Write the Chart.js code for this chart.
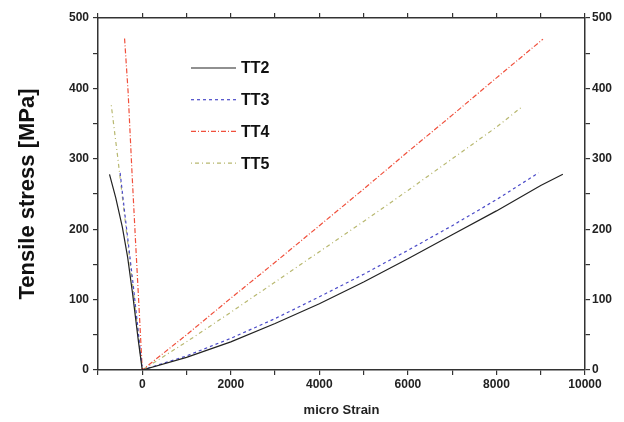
<!DOCTYPE html>
<html>
<head>
<meta charset="utf-8">
<script src="https://cdn.jsdelivr.net/npm/chart.js@4/dist/chart.umd.min.js"></script>
<style>
  html, body { margin: 0; padding: 0; background: #fff; }
  canvas { display: block; }
</style>
</head>
<body>
<canvas id="strainChart" width="624" height="422"></canvas>
<script>
// Curvas tensión - micro deformación (rama transversal negativa, longitudinal positiva)
const seriesNames = ['TT2', 'TT3', 'TT4', 'TT5'];

const tt2Strain = [-740, -600, -450, -330, -220, -90, 0, 1000, 2000, 3000, 4000, 5000, 6000, 7000, 8000, 9000, 9500];
const tt2Stress = [278, 245, 203, 160, 109, 42, 0, 18, 40, 66, 94, 125, 158, 192, 226, 262, 278];

const tt3Strain = [-500, -400, -300, -200, -100, 0, 1000, 2000, 3000, 4000, 5000, 6000, 7000, 8000, 8950];
const tt3Stress = [280, 225, 172, 118, 60, 0, 20, 45, 73, 104, 136, 170, 205, 242, 280];

const tt4Strain = [-400, -320, -230, -150, -70, 0, 1000, 2000, 3000, 4000, 5000, 6000, 7000, 8000, 9050];
const tt4Stress = [471, 395, 278, 180, 85, 0, 50, 102, 153, 205, 257, 310, 362, 415, 470];

const tt5Strain = [-700, -560, -420, -280, -140, 0, 1000, 2000, 3000, 4000, 5000, 6000, 7000, 8000, 8600];
const tt5Stress = [376, 305, 230, 155, 78, 0, 40, 82, 125, 168, 211, 255, 300, 345, 375];

const xTicks = [0, 2000, 4000, 6000, 8000, 10000];
const yTicks = [0, 100, 200, 300, 400, 500];

function pares(xs, ys) {
  return xs.map((x, i) => ({ x: x, y: ys[i] }));
}

const estilos = [
  { color: '#222222', dash: [] },
  { color: '#4a4ac8', dash: [3, 3] },
  { color: '#f0503c', dash: [5, 2, 1, 2] },
  { color: '#b8b870', dash: [1, 3, 4, 3] }
];

const datos = [
  pares(tt2Strain, tt2Stress),
  pares(tt3Strain, tt3Stress),
  pares(tt4Strain, tt4Stress),
  pares(tt5Strain, tt5Stress)
];

// Leyenda dentro del área del gráfico
const leyendaInterna = {
  id: 'leyendaInterna',
  afterDatasetsDraw(chart) {
    const c = chart.ctx;
    const a = chart.chartArea;
    c.save();
    chart.data.datasets.forEach((ds, i) => {
      const y = a.top + 50 + i * 31.7;
      const x0 = a.left + 93;
      c.beginPath();
      c.strokeStyle = ds.borderColor;
      c.lineWidth = ds.borderWidth;
      c.setLineDash(ds.borderDash);
      c.moveTo(x0, y);
      c.lineTo(x0 + 45, y);
      c.stroke();
      c.setLineDash([]);
      c.fillStyle = '#111';
      c.font = 'bold 16px "Liberation Sans", Arial, sans-serif';
      c.textBaseline = 'middle';
      c.fillText(ds.label, x0 + 50, y + 1);
    });
    c.restore();
  }
};

const familia = '"Liberation Sans", Arial, sans-serif';
const fuenteTicks = { family: familia, size: 12, weight: 'bold' };
const borde = { display: true, color: '#333', width: 1.5 };
const marcas = { drawOnChartArea: false, drawTicks: true, tickLength: 5, color: '#333', lineWidth: 1.2 };

const ctx = document.getElementById('strainChart').getContext('2d');
const strainChart = new Chart(ctx, {
  type: 'scatter',
  data: {
    datasets: seriesNames.map((n, i) => ({
      label: n,
      data: datos[i],
      showLine: true,
      borderColor: estilos[i].color,
      borderDash: estilos[i].dash,
      borderWidth: 1.2,
      pointRadius: 0,
      tension: 0,
      fill: false
    }))
  },
  plugins: [leyendaInterna],
  options: {
    responsive: false,
    animation: false,
    layout: { padding: 0 },
    plugins: {
      legend: { display: false },
      tooltip: { enabled: false }
    },
    scales: {
      x: {
        type: 'linear',
        position: 'bottom',
        min: -1000,
        max: 10000,
        afterFit: s => { s.height = 52; },
        ticks: {
          stepSize: 1000,
          autoSkip: false,
          color: '#222',
          font: fuenteTicks,
          padding: 2,
          maxRotation: 0,
          callback: function(v) { return xTicks.includes(v) ? String(v) : ''; }
        },
        grid: marcas,
        border: borde,
        title: {
          display: true,
          text: 'micro Strain',
          color: '#222',
          font: { family: familia, size: 13, weight: 'bold' },
          padding: { top: 6, bottom: 4 }
        }
      },
      xTop: {
        type: 'linear',
        position: 'top',
        min: -1000,
        max: 10000,
        afterFit: s => { s.height = 18; },
        ticks: { stepSize: 1000, display: false },
        grid: marcas,
        border: borde
      },
      y: {
        type: 'linear',
        position: 'left',
        min: 0,
        max: 500,
        afterFit: s => { s.width = 98; },
        ticks: {
          stepSize: 50,
          autoSkip: false,
          color: '#222',
          font: fuenteTicks,
          padding: 4,
          callback: function(v) { return yTicks.includes(v) ? String(v) : ''; }
        },
        grid: marcas,
        border: borde,
        title: {
          display: true,
          text: 'Tensile stress [MPa]',
          color: '#111',
          font: { family: familia, size: 22, weight: 'bold' },
          padding: { top: 15, bottom: 0 }
        }
      },
      yRight: {
        type: 'linear',
        position: 'right',
        min: 0,
        max: 500,
        afterFit: s => { s.width = 39; },
        ticks: {
          stepSize: 50,
          autoSkip: false,
          color: '#222',
          font: fuenteTicks,
          padding: 2,
          callback: function(v) { return yTicks.includes(v) ? String(v) : ''; }
        },
        grid: marcas,
        border: borde
      }
    }
  }
});
</script>
</body>
</html>
